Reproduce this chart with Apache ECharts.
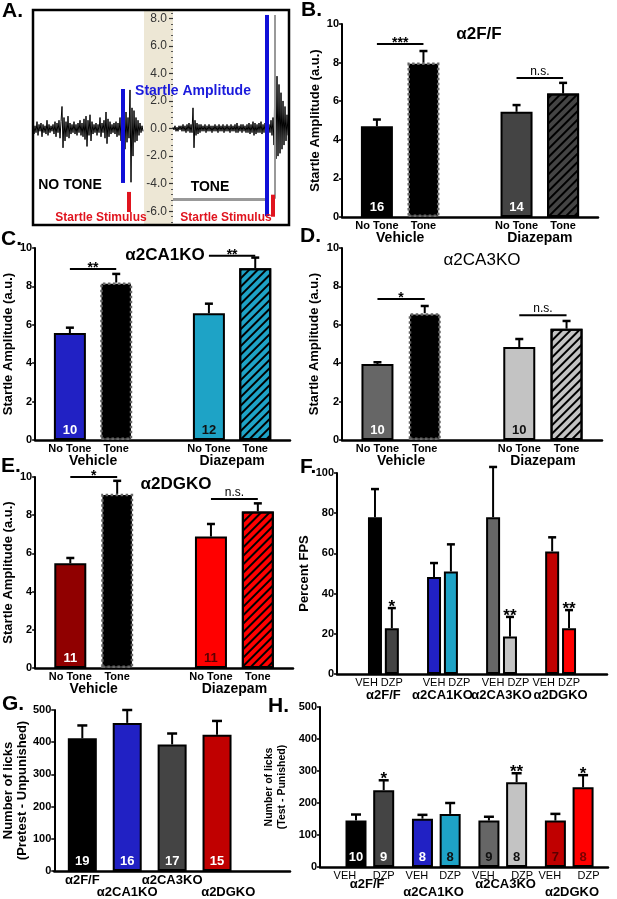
<!DOCTYPE html>
<html>
<head>
<meta charset="UTF-8">
<title>startle figure</title>
<script src="https://cdn.jsdelivr.net/npm/echarts@6/dist/echarts.min.js"></script>
<style>
html, body { margin: 0; padding: 0; background: #fff; }
#main { width: 617px; height: 899px; }
</style>
</head>
<body>
<div id="main"></div>
<script>
// ---------- data ----------
// A: raw startle traces (a.u.), one value per sample
var traceNoTone = [0.3,-0.4,0.2,-0.3,0.5,-0.5,0.3,-0.2,0.4,-0.6,0.3,
  -0.3,0.2,-0.4,0.6,-0.5,0.3,-0.3,0.2,-0.2,0.3,
  -0.4,0.5,-0.6,0.4,-0.3,0.6,-0.7,0.5,1.6,-1.4,
  0.8,-0.9,0.5,-0.6,0.9,-0.7,0.4,-0.4,0.3,-0.3,
  0.5,-0.4,0.3,-0.5,0.4,-0.3,0.6,-0.5,0.4,-0.6,
  0.7,-0.8,0.9,-1.3,0.6,-0.5,1.0,-0.9,0.5,-0.4,
  0.3,-0.3,0.4,-0.5,0.3,-0.3,0.8,-0.6,0.4,-0.3,
  0.6,-0.7,1.2,-1.1,0.7,-0.6,0.5,-0.4,0.3,-0.3,
  0.4,-0.4,0.5,-0.6,0.4,-0.5,0.8,-0.9,1.0,-1.2,
  0.9,-1.5,1.2,-1.0,0.8,-0.7,2.8,-3.9,1.5,-2.0,
  1.3,-1.0,0.8,-0.9,0.6,-0.5,0.4,-0.3,0.2,-0.2];
var traceTone = [0.1,-0.1,0.2,-0.2,0.1,-0.2,0.2,-0.1,0.2,-0.2,
  0.3,-0.2,0.2,-0.3,0.3,-0.2,0.4,-0.3,0.3,-0.3,
  1.5,-1.4,0.6,-0.5,0.4,-0.4,0.3,-0.3,0.3,-0.2,
  0.2,-0.2,0.3,-0.3,0.2,-0.2,0.3,-0.2,0.2,-0.3,
  0.2,-0.2,0.3,-0.2,0.2,-0.3,0.3,-0.2,0.2,-0.2,
  0.3,-0.3,0.2,-0.2,0.3,-0.2,0.2,-0.3,0.3,-0.2,
  0.2,-0.2,0.3,-0.3,0.4,-0.3,0.2,-0.2,0.3,-0.3,
  0.3,-0.2,0.2,-0.3,0.3,-0.3,0.4,-0.4,0.3,-0.3,
  0.5,-0.5,0.4,-0.4,0.3,-0.3,0.4,-0.3,0.5,-0.4,
  0.3,-0.3,0.4,-0.4,0.5,-0.5,0.3,-0.3,0.6,-0.5,
  0.8,-1.2,4.4,-2.2,3.8,-2.0,3.2,-1.8,2.6,-1.5,
  2.0,-1.2,1.6,-0.9,1.0,-0.5];
var traceTicks = [-6, -4, -2, 0, 2, 4, 6, 8];

// B-E: startle amplitude, No Tone / Tone x Vehicle / Diazepam
var toneLabels = ['No Tone', 'Tone', 'No Tone', 'Tone'];
var treatLabels = ['Vehicle', 'Diazepam'];

var ffMean = [4.7, 8.0, 5.45, 6.4];
var ffSem = [0.35, 0.6, 0.35, 0.55];
var ffN = [16, null, 14, null];
var ffSig = ['***', 'n.s.'];
var ffSigY = [8.96, 7.2];

var ca1Mean = [5.57, 8.2, 6.6, 8.95];
var ca1Sem = [0.28, 0.45, 0.5, 0.55];
var ca1N = [10, null, 12, null];
var ca1Sig = ['**', '**'];
var ca1SigY = [8.9, 9.6];

var ca3Mean = [3.96, 6.6, 4.84, 5.8];
var ca3Sem = [0.09, 0.38, 0.42, 0.4];
var ca3N = [10, null, 10, null];
var ca3Sig = ['*', 'n.s.'];
var ca3SigY = [7.34, 6.5];

var dgMean = [5.48, 9.12, 6.88, 8.2];
var dgSem = [0.28, 0.68, 0.66, 0.42];
var dgN = [11, null, 11, null];
var dgSig = ['*', 'n.s.'];
var dgSigY = [10.0, 8.85];

// F-H: genotype x treatment
var genotypes = ['α2F/F', 'α2CA1KO', 'α2CA3KO', 'α2DGKO'];
var treatShort = ['VEH', 'DZP', 'VEH', 'DZP', 'VEH', 'DZP', 'VEH', 'DZP'];

var fpsMean = [78, 22.8, 48.2, 51, 78, 18.6, 61, 22.8];
var fpsSem = [14, 10, 7, 13.5, 25, 9.8, 7, 9];
var fpsStars = ['', '*', '', '', '', '**', '', '**'];

var unpunMean = [412, 460, 393, 423];
var unpunSem = [40, 40, 34, 43];
var unpunN = [19, 16, 17, 15];

var punMean = [145, 240, 151, 166, 145, 265, 145, 249];
var punSem = [19, 31, 12, 34, 12, 28, 21, 38];
var punN = [10, 9, 8, 8, 9, 8, 7, 8];
var punStars = ['', '*', '', '', '', '**', '', '*'];

// ---------- styles ----------
var FONT = '"Liberation Sans", Arial, sans-serif';
var BLUE = '#2121c4', TEAL = '#1ea3c6', DRED = '#c00000', RED = '#ff0000';

function solid(c) { return { color: c, borderColor: '#000', borderWidth: 2 }; }
function dotted() { return { color: '#000', borderColor: '#666', borderWidth: 2.5, borderType: 'dotted' }; }
function hatched(c) {
  return { color: c, borderColor: '#000', borderWidth: 2,
    decal: { symbol: 'rect', symbolSize: 1, dashArrayX: [1, 0], dashArrayY: [2, 4],
      rotation: -Math.PI / 4, color: '#000' } };
}

var chart = echarts.init(document.getElementById('main'));
var option = {
  animation: false,
  backgroundColor: '#fff',
  textStyle: { fontFamily: FONT },
  grid: [], xAxis: [], yAxis: [], series: [], graphic: []
};

function fillSlots(n, slots, vals) {
  var d = [];
  for (var i = 0; i < n; i++) d.push('');
  slots.forEach(function (s, i) { d[s] = vals[i]; });
  return d;
}

function errRender(stars, cap) {
  return function (params, api) {
    var x = api.value(0), m = api.value(1), s = api.value(2);
    var a = api.coord([x, m]), b = api.coord([x, m + s]);
    var ch = [
      { type: 'line', shape: { x1: a[0], y1: a[1], x2: b[0], y2: b[1] }, style: { stroke: '#000', lineWidth: 2 } },
      { type: 'line', shape: { x1: b[0] - cap, y1: b[1], x2: b[0] + cap, y2: b[1] }, style: { stroke: '#000', lineWidth: 2.5 } }
    ];
    var st = stars && stars[params.dataIndex];
    if (st) {
      ch.push({ type: 'text', x: b[0], y: b[1] - 1,
        style: { text: st, fill: '#000', font: 'bold 17px ' + FONT, align: 'center', verticalAlign: 'middle' } });
    }
    return { type: 'group', children: ch };
  };
}

function bracketRender(texts) {
  return function (params, api) {
    var a = api.coord([api.value(0), api.value(2)]);
    var b = api.coord([api.value(1), api.value(2)]);
    var t = texts[params.dataIndex];
    var star = t.indexOf('*') >= 0;
    return { type: 'group', children: [
      { type: 'line', shape: { x1: a[0], y1: a[1], x2: b[0], y2: b[1] }, style: { stroke: '#000', lineWidth: 2 } },
      { type: 'text', x: (a[0] + b[0]) / 2, y: a[1] - 0.5,
        style: { text: t, fill: '#000', align: 'center',
          verticalAlign: star ? 'middle' : 'bottom',
          font: (star ? 'bold 14px ' : '12px ') + FONT } }
    ] };
  };
}

function addBarPanel(p) {
  var gi = option.grid.length;
  option.grid.push({ left: p.left, top: p.top, width: p.width, height: p.height });
  var xi = option.xAxis.length;
  option.xAxis.push({
    gridIndex: gi, type: 'category', position: 'bottom',
    data: fillSlots(p.nSlots, p.tickSlots || [], p.tickLabels || []),
    axisLine: { lineStyle: { color: '#000', width: 2.5 } },
    axisTick: { show: false },
    axisLabel: { interval: 0, margin: p.tickMargin, fontSize: p.tickSize, fontWeight: p.tickWeight,
      color: '#000', fontFamily: FONT }
  });
  (p.rows || []).forEach(function (r) {
    option.xAxis.push({
      gridIndex: gi, type: 'category', position: 'bottom', offset: r.offset,
      data: fillSlots(p.nSlots, r.slots, r.labels),
      axisLine: { show: false }, axisTick: { show: false },
      axisLabel: { interval: 0, margin: r.margin, fontSize: r.size, fontWeight: 'bold', color: '#000', fontFamily: FONT }
    });
  });
  var yi = option.yAxis.length;
  option.yAxis.push({
    gridIndex: gi, type: 'value', min: 0, max: p.yMax, interval: p.yInterval,
    name: p.yName, nameLocation: 'middle', nameGap: p.nameGap,
    nameTextStyle: { fontSize: p.nameSize || 13, fontWeight: 'bold', color: '#000', fontFamily: FONT,
      lineHeight: p.nameLine || 15 },
    axisLine: { show: true, lineStyle: { color: '#000', width: 2 } },
    axisTick: { show: true, length: 3, lineStyle: { color: '#000', width: 1.5 } },
    splitLine: { show: false },
    axisLabel: { fontSize: 11, fontWeight: 'bold', color: '#000', margin: 3, fontFamily: FONT }
  });
  var barData = [];
  for (var i = 0; i < p.nSlots; i++) barData.push('-');
  p.slots.forEach(function (s, i) {
    var n = p.n ? p.n[i] : null;
    barData[s] = {
      value: p.mean[i],
      itemStyle: p.styles[i],
      label: n == null ? { show: false } : {
        show: true, position: 'insideBottom', distance: 3, formatter: String(n),
        color: p.nColors[i], fontSize: 13, fontWeight: 'bold', fontFamily: FONT }
    };
  });
  option.series.push({ type: 'bar', xAxisIndex: xi, yAxisIndex: yi, data: barData, barWidth: p.barWidth, z: 2 });
  option.series.push({
    type: 'custom', xAxisIndex: xi, yAxisIndex: yi, z: 3, clip: false,
    data: p.slots.map(function (s, i) { return [s, p.mean[i], p.sem[i]]; }),
    renderItem: errRender(p.stars, p.cap)
  });
  if (p.sig) {
    option.series.push({
      type: 'custom', xAxisIndex: xi, yAxisIndex: yi, z: 3, clip: false,
      data: p.sig.map(function (t, i) { return [p.sigFrom[i], p.sigTo[i], p.sigY[i]]; }),
      renderItem: bracketRender(p.sig)
    });
  }
}

// startle panels share one layout
var startleSlots = [1, 3, 7, 9];
function startlePanel(left, top, width, height, mean, sem, n, nColors, styles, sig, sigY, nameGap) {
  addBarPanel({
    left: left, top: top, width: width, height: height, nSlots: 11,
    slots: startleSlots, tickSlots: startleSlots, tickLabels: toneLabels,
    tickMargin: 3, tickSize: 11, tickWeight: 'bold',
    rows: [{ slots: [2, 8], labels: treatLabels, offset: 10, margin: 4, size: 14 }],
    yMax: 10, yInterval: 2, yName: 'Startle Amplitude (a.u.)', nameGap: nameGap,
    mean: mean, sem: sem, n: n, nColors: nColors, styles: styles,
    barWidth: 32, cap: 4,
    sig: sig, sigY: sigY, sigFrom: [1, 7], sigTo: [3, 9]
  });
}

startlePanel(342, 24, 256, 193, ffMean, ffSem, ffN, ['#fff', '', '#fff', ''],
  [solid('#000'), dotted(), solid('#444'), hatched('#444')], ffSig, ffSigY, 19);
startlePanel(32, 248, 258, 192, ca1Mean, ca1Sem, ca1N, ['#fff', '', '#111', ''],
  [solid(BLUE), dotted(), solid(TEAL), hatched(TEAL)], ca1Sig, ca1SigY, 18);
startlePanel(342, 248, 260, 192, ca3Mean, ca3Sem, ca3N, ['#fff', '', '#111', ''],
  [solid('#666'), dotted(), solid('#c3c3c3'), hatched('#c3c3c3')], ca3Sig, ca3SigY, 20);
startlePanel(32, 477, 261, 191, dgMean, dgSem, dgN, ['#fff', '', '#5a0000', ''],
  [solid('#900000'), dotted(), solid(RED), hatched(RED)], dgSig, dgSigY, 18);

var pairColors = ['#000', '#444', BLUE, TEAL, '#666', '#c3c3c3', DRED, RED];

// F. percent FPS
addBarPanel({
  left: 337, top: 473, width: 270, height: 201, nSlots: 32,
  slots: [4, 6, 11, 13, 18, 20, 25, 27],
  tickSlots: [3, 6, 11, 14, 18, 21, 24, 27], tickLabels: treatShort,
  tickMargin: 3, tickSize: 11, tickWeight: 'normal',
  rows: [{ slots: [5, 12, 19, 26], labels: genotypes, offset: 12, margin: 3, size: 13 }],
  yMax: 100, yInterval: 20, yName: 'Percent FPS', nameGap: 19,
  mean: fpsMean, sem: fpsSem, styles: pairColors.map(solid),
  barWidth: 14, cap: 4, stars: fpsStars
});

// G. unpunished licks
addBarPanel({
  left: 51, top: 710, width: 239, height: 164, nSlots: 21,
  slots: [2, 6, 10, 14],
  tickMargin: 2, tickSize: 11, tickWeight: 'bold',
  rows: [
    { slots: [2, 10], labels: [genotypes[0], genotypes[2]], offset: 0, margin: 3, size: 13 },
    { slots: [6, 15], labels: [genotypes[1], genotypes[3]], offset: 12, margin: 3, size: 13 }
  ],
  yMax: 500, yInterval: 100, yName: 'Number of licks\n(Pretest - Unpunished)', nameGap: 23, nameLine: 14,
  mean: unpunMean, sem: unpunSem, n: unpunN, nColors: ['#fff', '#fff', '#fff', '#fff'],
  styles: ['#000', BLUE, '#444', DRED].map(solid),
  barWidth: 29, cap: 5
});

// H. punished licks
addBarPanel({
  left: 320, top: 707, width: 288, height: 162, nSlots: 52,
  slots: [6, 11, 18, 23, 30, 35, 42, 47],
  tickSlots: [4, 11, 17, 23, 29, 36, 41, 48], tickLabels: treatShort,
  tickMargin: 3, tickSize: 11, tickWeight: 'normal',
  rows: [
    { slots: [8, 33], labels: [genotypes[0], genotypes[2]], offset: 10, margin: 1, size: 13 },
    { slots: [20, 45], labels: [genotypes[1], genotypes[3]], offset: 18, margin: 1, size: 13 }
  ],
  yMax: 500, yInterval: 100, yName: 'Number of licks\n(Test - Punished)', nameGap: 31,
  nameSize: 10.5, nameLine: 13,
  mean: punMean, sem: punSem, n: punN,
  nColors: ['#fff', '#fff', '#fff', '#111', '#111', '#111', '#5a0000', '#7a0000'],
  styles: pairColors.map(solid),
  barWidth: 21, cap: 5, stars: punStars
});

// A. traces: left = no tone, right = tone
function idx(arr) { return arr.map(function (v, i) { return i; }); }
function seg(x1, y1, x2, y2, color, width) {
  return [{ coord: [x1, y1], lineStyle: { color: color, width: width, type: 'solid' } }, { coord: [x2, y2] }];
}
var gA = option.grid.length;
option.grid.push({ left: 33, top: 10, width: 110, height: 215 });
option.grid.push({ left: 173, top: 10, width: 115, height: 215 });
var xA = option.xAxis.length;
option.xAxis.push({ gridIndex: gA, type: 'category', data: idx(traceNoTone), boundaryGap: false, show: false });
option.xAxis.push({ gridIndex: gA + 1, type: 'category', data: idx(traceTone), boundaryGap: false, show: false });
var yA = option.yAxis.length;
option.yAxis.push({ gridIndex: gA, type: 'value', min: -7, max: 8.6, show: false });
option.yAxis.push({
  gridIndex: gA + 1, type: 'value', min: -7, max: 8.6, position: 'left',
  axisLine: { show: false }, splitLine: { show: false },
  axisTick: { show: true, length: 4, customValues: traceTicks, lineStyle: { color: '#333', width: 1.2 } },
  axisLabel: { customValues: traceTicks, margin: 6, fontSize: 12, color: '#333', fontFamily: FONT,
    formatter: function (v) { return v.toFixed(1); } }
});
var minorTicks = [];
for (var k = -34; k <= 42; k += 2) { if (k % 10 !== 0) minorTicks.push(k / 5); }
option.yAxis.push({
  gridIndex: gA + 1, type: 'value', min: -7, max: 8.6, position: 'left',
  axisLine: { show: false }, splitLine: { show: false }, axisLabel: { show: false },
  axisTick: { show: true, length: 2, customValues: minorTicks, lineStyle: { color: '#555', width: 1 } }
});
option.series.push({
  type: 'line', xAxisIndex: xA, yAxisIndex: yA, data: traceNoTone, showSymbol: false,
  lineStyle: { color: '#000', width: 1 }, z: 2,
  markLine: { silent: true, symbol: ['none', 'none'], label: { show: false }, animation: false,
    data: [seg(90, 2.87, 90, -3.95, '#1010d8', 4), seg(96, -4.6, 96, -6.06, '#e0141e', 4)] }
});
option.series.push({
  type: 'line', xAxisIndex: xA + 1, yAxisIndex: yA + 1, data: traceTone, showSymbol: false,
  lineStyle: { color: '#000', width: 1 }, z: 2,
  markLine: { silent: true, symbol: ['none', 'none'], label: { show: false }, animation: false,
    data: [seg(0, -5.1, 95, -5.1, '#999', 3), seg(102, 8.24, 102, -5.1, '#999', 2),
      seg(94, 8.24, 94, -6.35, '#1010d8', 4), seg(100, -4.8, 100, -6.4, '#e0141e', 4)] }
});

// figure annotations
function txt(x, y, s, font, color, align) {
  return { type: 'text', x: x, y: y, z: 50,
    style: { text: s, font: font, fill: color || '#000', align: align || 'center', verticalAlign: 'middle' } };
}
option.graphic = [
  { type: 'rect', z: 0, shape: { x: 144, y: 11, width: 29, height: 213 }, style: { fill: '#ede7d5' } },
  { type: 'rect', z: 60, shape: { x: 33, y: 10, width: 256, height: 215 }, style: { fill: null, stroke: '#000', lineWidth: 2.5 } },
  txt(193, 91, 'Startle Amplitude', 'bold 14px ' + FONT, '#1a1adc'),
  txt(70, 185, 'NO TONE', 'bold 14px ' + FONT),
  txt(210, 187, 'TONE', 'bold 14px ' + FONT),
  txt(101, 218, 'Startle Stimulus', 'bold 12px ' + FONT, '#e0141e'),
  txt(226, 218, 'Startle Stimulus', 'bold 12px ' + FONT, '#e0141e'),
  txt(479, 34, 'α2F/F', 'bold 17px ' + FONT),
  txt(165, 255, 'α2CA1KO', 'bold 17px ' + FONT),
  txt(482, 260, 'α2CA3KO', '17px ' + FONT),
  txt(176, 484, 'α2DGKO', 'bold 17px ' + FONT),
  txt(2, 11, 'A.', 'bold 21px ' + FONT, '#000', 'left'),
  txt(301, 10, 'B.', 'bold 21px ' + FONT, '#000', 'left'),
  txt(1, 239, 'C.', 'bold 21px ' + FONT, '#000', 'left'),
  txt(300, 236, 'D.', 'bold 21px ' + FONT, '#000', 'left'),
  txt(1, 466, 'E.', 'bold 21px ' + FONT, '#000', 'left'),
  txt(300, 467, 'F.', 'bold 21px ' + FONT, '#000', 'left'),
  txt(2, 704, 'G.', 'bold 21px ' + FONT, '#000', 'left'),
  txt(268, 706, 'H.', 'bold 21px ' + FONT, '#000', 'left')
];

chart.setOption(option);
</script>
</body>
</html>
